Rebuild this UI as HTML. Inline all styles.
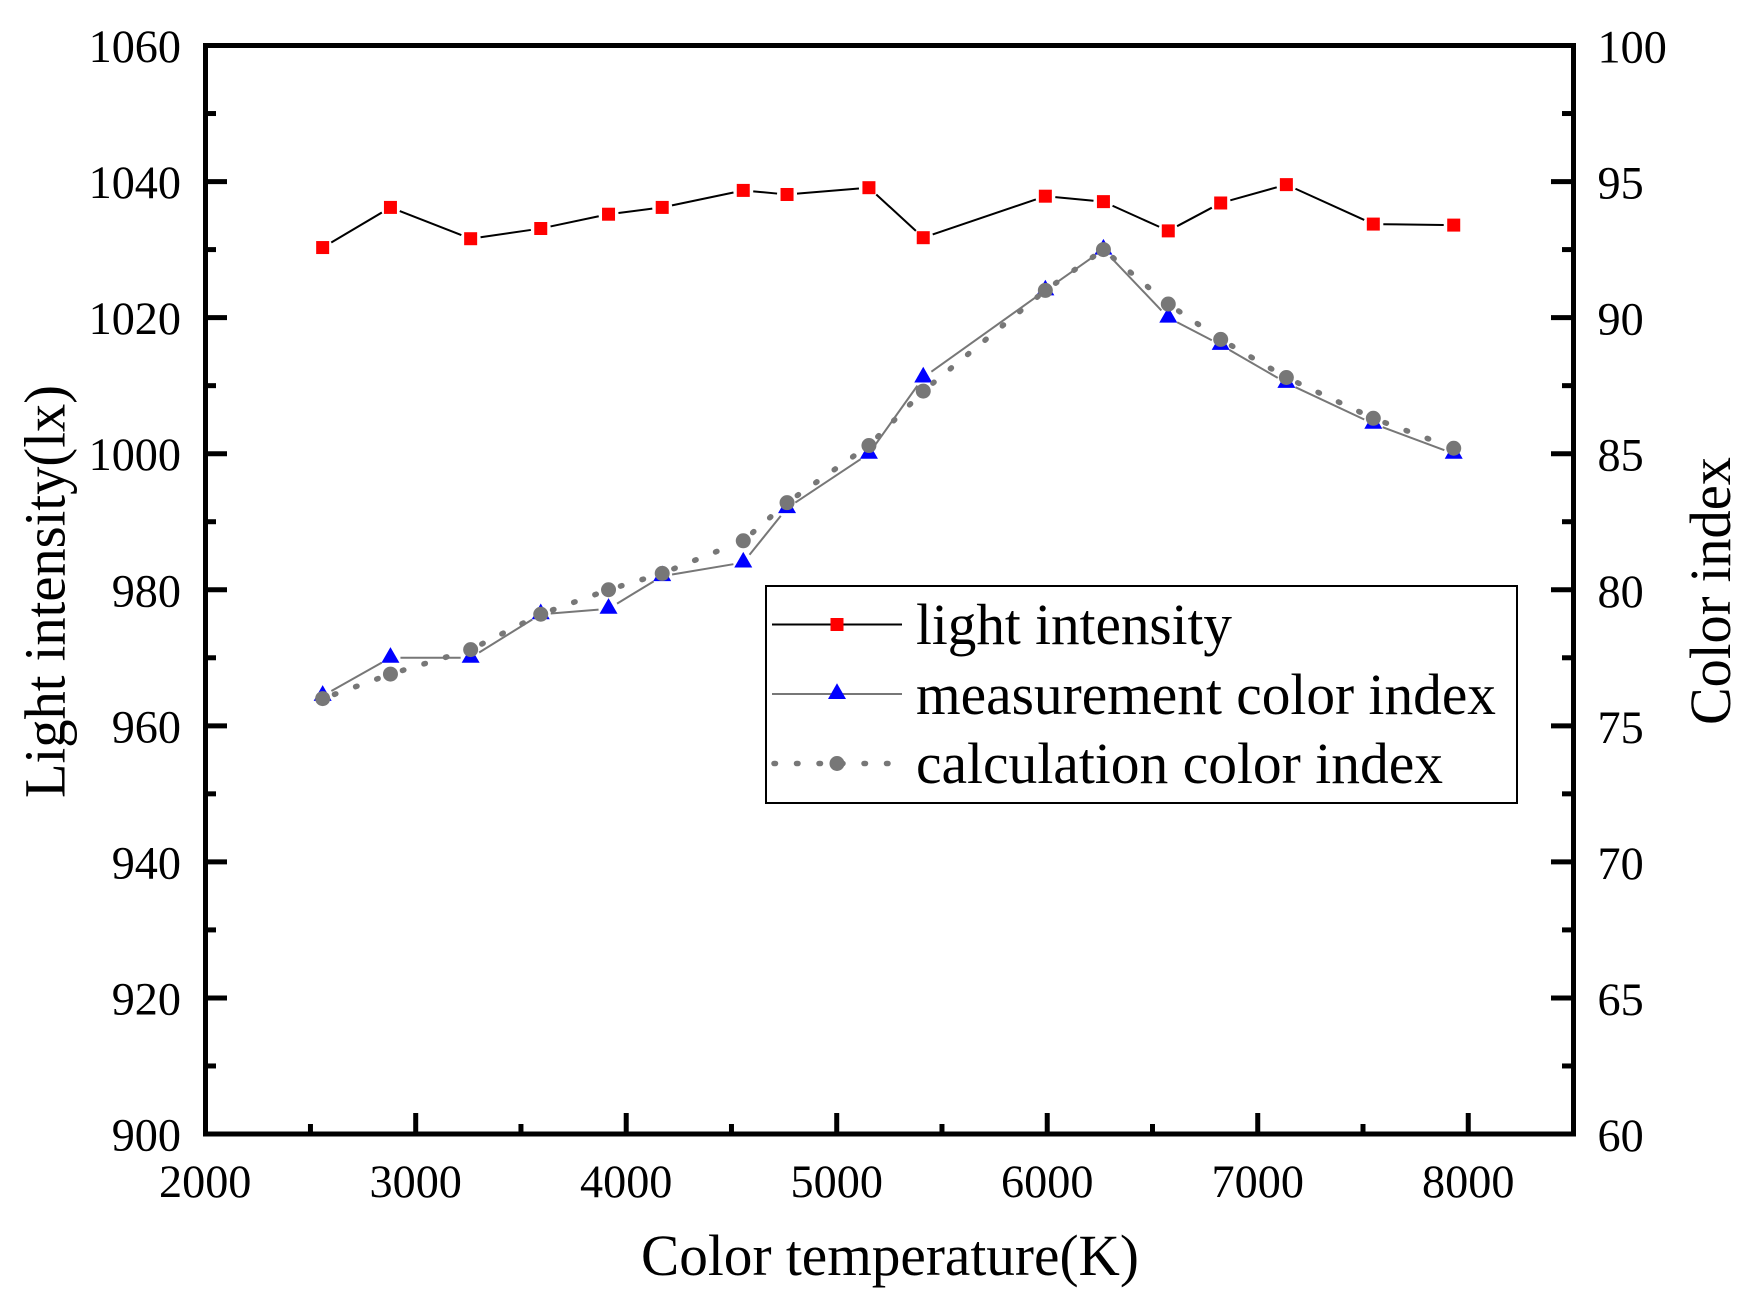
<!DOCTYPE html>
<html lang="en">
<head>
<meta charset="utf-8">
<title>Light intensity and color index vs color temperature</title>
<style>
html,body{margin:0;padding:0;background:#fff;width:1751px;height:1299px;overflow:hidden}
svg{display:block}
text{font-family:"Liberation Serif",serif;fill:#000}
</style>
</head>
<body>
<svg id="chart" xmlns="http://www.w3.org/2000/svg" width="1751" height="1299" viewBox="0 0 1751 1299">
  <rect width="1751" height="1299" fill="#fff"/>
  <g id="ticks"></g>
  <rect x="205.5" y="45.5" width="1368" height="1088.5" fill="none" stroke="#000" stroke-width="5"/>
  <g id="tick-labels"></g>
  <g id="series"></g>
  <text x="641" y="1275" font-size="58" textLength="498" lengthAdjust="spacingAndGlyphs">Color temperature(K)</text>
  <text transform="translate(64.5 798) rotate(-90)" font-size="58" textLength="413" lengthAdjust="spacingAndGlyphs">Light intensity(lx)</text>
  <text transform="translate(1730 725) rotate(-90)" font-size="58" textLength="268" lengthAdjust="spacingAndGlyphs">Color index</text>
  <g>
    <rect x="766" y="586" width="751" height="217" fill="#fff" stroke="#000" stroke-width="2"/>
    <g>
      <line x1="772" y1="624.5" x2="902" y2="624.5" stroke="#000" stroke-width="2"/>
      <rect x="830.5" y="618" width="13" height="13" fill="#f00"/>
      <text x="916" y="644" font-size="58" textLength="316" lengthAdjust="spacingAndGlyphs">light intensity</text>
    </g>
    <g>
      <line x1="772" y1="694" x2="902" y2="694" stroke="#777" stroke-width="2"/>
      <polygon points="837,683.3 846,699 828,699" fill="#00f"/>
      <text x="916" y="714" font-size="58" textLength="580" lengthAdjust="spacingAndGlyphs">measurement color index</text>
    </g>
    <g>
      <line x1="774" y1="763.5" x2="895" y2="763.5" stroke="#777" stroke-width="5.5" stroke-linecap="round" stroke-dasharray="1.5 21"/>
      <circle cx="837" cy="763.5" r="7.5" fill="#777"/>
      <text x="916" y="783" font-size="58" textLength="527" lengthAdjust="spacingAndGlyphs">calculation color index</text>
    </g>
  </g>
</svg>
<script>
const colorTemperature = [2558,2880,3261,3594,3916,4171,4556,4764,5153,5411,5991,6267,6575,6824,7136,7549,7931];
const lightIntensity = [1030.3,1036.2,1031.6,1033.1,1035.2,1036.2,1038.7,1038.1,1039.1,1031.75,1037.85,1037.05,1032.75,1036.85,1039.55,1033.75,1033.6];
const measuredColorIndex = [76.1,77.5,77.5,79.1,79.3,80.5,81.0,83.0,85.0,87.8,91.0,92.5,90.0,89.0,87.6,86.1,85.0];
const calculatedColorIndex = [76.0,76.9,77.8,79.1,80.0,80.6,81.8,83.2,85.3,87.3,91.0,92.5,90.5,89.2,87.8,86.3,85.2];
const xTickLabels = [2000,3000,4000,5000,6000,7000,8000];
const xMinorTicks = [2500,3500,4500,5500,6500,7500];
const leftTickLabels = [900,920,940,960,980,1000,1020,1040,1060];
const leftMinorTicks = [910,930,950,970,990,1010,1030,1050];
const rightTickLabels = [60,65,70,75,80,85,90,95,100];
const rightMinorTicks = [62.5,67.5,72.5,77.5,82.5,87.5,92.5,97.5];

const NS = 'http://www.w3.org/2000/svg';
const xScale = v => 205.2 + (v - 2000) * (1573.5 - 205.2) / 6500;
const yLeft = v => 1134 - (v - 900) * (1134 - 45.5) / 160;
const yRight = v => 1134 - (v - 60) * (1134 - 45.5) / 40;

function make(tag, attrs, parent) {
  const el = document.createElementNS(NS, tag);
  for (const k in attrs) el.setAttribute(k, attrs[k]);
  parent.appendChild(el);
  return el;
}

const tickGroup = document.getElementById('ticks');
const labelGroup = document.getElementById('tick-labels');
const seriesGroup = document.getElementById('series');

function drawTick(x1, y1, x2, y2) {
  const t = make('line', {x1, y1, x2, y2, stroke: '#000', 'stroke-width': 5}, tickGroup);
  
  
}
function drawLabel(value, x, y, anchor) {
  const s = String(value);
  const t = make('text', {x, y, 'font-size': 47, 'text-anchor': anchor, textLength: 23.1 * s.length, lengthAdjust: 'spacingAndGlyphs'}, labelGroup);
  t.textContent = s;
  
  
}

xTickLabels.forEach(v => { const x = xScale(v); if (v > 2000) drawTick(x, 1134, x, 1113); drawLabel(v, x, 1197, 'middle'); });
xMinorTicks.forEach(v => { const x = xScale(v); drawTick(x, 1134, x, 1124); });
leftTickLabels.forEach(v => { const y = yLeft(v); drawTick(205.5, y, 227, y); drawLabel(v, 181, y + 16.5, 'end'); });
leftMinorTicks.forEach(v => { const y = yLeft(v); drawTick(205.5, y, 216, y); });
rightTickLabels.forEach(v => { const y = yRight(v); drawTick(1573.5, y, 1551, y); drawLabel(v, 1597.5, y + 17, 'start'); });
rightMinorTicks.forEach(v => { const y = yRight(v); drawTick(1573.5, y, 1562, y); });

function drawSegments(values, yFn, trimA, trimB, attrs) {
  for (let i = 0; i < values.length - 1; i++) {
    const x1 = xScale(colorTemperature[i]), y1 = yFn(values[i]);
    const x2 = xScale(colorTemperature[i + 1]), y2 = yFn(values[i + 1]);
    const len = Math.hypot(x2 - x1, y2 - y1);
    const ux = (x2 - x1) / len, uy = (y2 - y1) / len;
    const seg = make('line', Object.assign({
      x1: x1 + ux * trimA, y1: y1 + uy * trimA,
      x2: x2 - ux * trimB, y2: y2 - uy * trimB
    }, attrs), seriesGroup);
    
    
  }
}

drawSegments(lightIntensity, yLeft, 10, 10, {stroke: '#000', 'stroke-width': 2});
drawSegments(measuredColorIndex, yRight, 10, 10, {stroke: '#777', 'stroke-width': 2});

lightIntensity.forEach((v, i) => {
  const x = xScale(colorTemperature[i]), y = yLeft(v);
  const m = make('rect', {x: x - 6.5, y: y - 6.5, width: 13, height: 13, fill: '#f00'}, seriesGroup);
  
  
});
measuredColorIndex.forEach((v, i) => {
  const x = xScale(colorTemperature[i]), y = yRight(v);
  const m = make('polygon', {points: `${x},${y - 10.7} ${x + 9},${y + 5} ${x - 9},${y + 5}`, fill: '#00f'}, seriesGroup);
  
  
});
drawSegments(calculatedColorIndex, yRight, 12.5, 9, {stroke: '#777', 'stroke-width': 5.5, 'stroke-linecap': 'round', 'stroke-dasharray': '1.5 21'});
calculatedColorIndex.forEach((v, i) => {
  const x = xScale(colorTemperature[i]), y = yRight(v);
  const m = make('circle', {cx: x, cy: y, r: 7.5, fill: '#777'}, seriesGroup);
  
  
});
</script>
</body>
</html>
